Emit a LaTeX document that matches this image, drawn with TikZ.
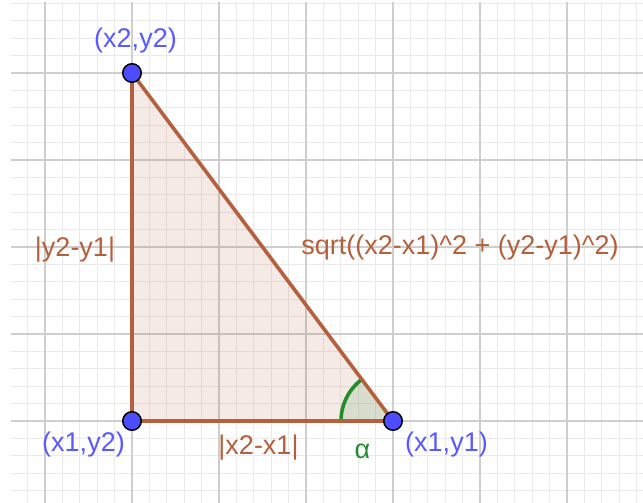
\documentclass[tikz,border=0pt]{standalone}
\usepackage{fontspec}
\setmainfont{Liberation Sans}
\definecolor{ptblue}{RGB}{77,77,255}
\definecolor{txtblue}{RGB}{90,90,255}
\definecolor{segbrown}{RGB}{181,96,60}
\definecolor{anggreen}{RGB}{35,140,45}
\definecolor{minorgrid}{RGB}{234,234,234}
\definecolor{majorgrid}{RGB}{206,206,206}
\tikzset{
  minorline/.style={draw=minorgrid, line width=1.3pt},
  majorline/.style={draw=majorgrid, line width=1.9pt},
  seg/.style={draw=segbrown, line width=3.6pt, line cap=round},
  pt/.style={circle, fill=ptblue, draw=black, line width=1.5pt, minimum size=18.5pt, inner sep=0pt},
  lbl/.style={font=\fontsize{27}{32}\selectfont, inner sep=0pt},
}
\begin{document}
\begin{tikzpicture}[x=1pt,y=-1pt]
\useasboundingbox (0,0) rectangle (643,503);
\fill[white] (0,0) rectangle (643,503);
% grid
\begin{scope}
\clip (11,3) rectangle (643,503);
\foreach \i in {-2,...,35} {
  \draw[minorline] ({45+17.4*\i},0) -- ({45+17.4*\i},503);
}
\foreach \j in {-4,...,25} {
  \draw[minorline] (0,{73+17.4*\j}) -- (643,{73+17.4*\j});
}
\foreach \i in {0,...,7} {
  \draw[majorline] ({45+87*\i},0) -- ({45+87*\i},503);
}
\foreach \j in {0,...,5} {
  \draw[majorline] (0,{73+87*\j}) -- (643,{73+87*\j});
}
\end{scope}
% points
\coordinate (A) at (393,421);
\coordinate (B) at (132,73);
\coordinate (C) at (132,421);
% triangle fill
\fill[segbrown, fill opacity=0.13] (A) -- (B) -- (C) -- cycle;
% angle sector
\fill[anggreen, fill opacity=0.13] (A) -- ++(-52,0) arc[start angle=180, end angle=233.13, radius=52] -- cycle;
\draw[anggreen, line width=3.6pt] (A) ++(-52,0) arc[start angle=180, end angle=233.13, radius=52];
% edges
\draw[seg] (A) -- (B);
\draw[seg] (B) -- (C);
\draw[seg] (C) -- (A);
\node[pt] (pA) at (A) {};
\node[pt] (pB) at (B) {};
\node[pt] (pC) at (C) {};
% labels
\node[lbl, text=txtblue] (lB) at (135.5,40.5) {(x2,y2)};
\node[lbl, text=txtblue] (lC) at (83.5,445) {(x1,y2)};
\node[lbl, text=txtblue] (lA) at (446.5,444.5) {(x1,y1)};
\node[lbl, text=anggreen] (lal) at (362.5,451) {α};
\node[lbl, text=segbrown] (lx) at (258.5,448) {|x2-x1|};
\node[lbl, text=segbrown] (ly) at (75,250) {|y2-y1|};
\node[lbl, text=segbrown] (lh) at (460,248) {sqrt((x2-x1)\string^2 + (y2-y1)\string^2)};
\end{tikzpicture}
\end{document}
